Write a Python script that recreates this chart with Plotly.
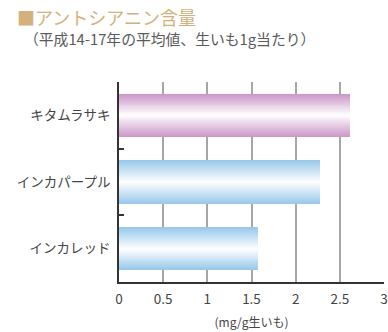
import plotly.graph_objects as go

categories = ["キタムラサキ", "インカパープル", "インカレッド"]
values = [2.61, 2.27, 1.57]
bar_colors = ["#cc98c8", "#99c9ea", "#99c9ea"]
x_ticks = [0, 0.5, 1, 1.5, 2, 2.5, 3]
x_tick_labels = ["0", "0.5", "1", "1.5", "2", "2.5", "3"]

FONT = "Noto Sans CJK JP"
W, H = 388, 332
L, R, T, B = 119, 4, 82, 50
PW, PH = W - L - R, H - T - B


def mix(hex_color, t):
    h = hex_color.lstrip("#")
    r, g, b = int(h[0:2], 16), int(h[2:4], 16), int(h[4:6], 16)
    r = round(r + (255 - r) * t)
    g = round(g + (255 - g) * t)
    b = round(b + (255 - b) * t)
    return f"rgb({r},{g},{b})"


fig = go.Figure()
N = 22
BAR_W = 0.65
for k in range(N):
    t = k / (N - 1) * 0.97
    fig.add_trace(go.Bar(
        y=categories, x=values, orientation="h",
        width=BAR_W * (1 - k / N),
        marker=dict(color=[mix(c, t) for c in bar_colors], line=dict(width=0)),
        showlegend=False, hoverinfo="skip" if k else "x+y",
    ))


def px(xp):
    return (xp - L) / PW


def py(yp):
    return (H - B - yp) / PH


fig.update_layout(
    width=W, height=H,
    margin=dict(l=L, r=R, t=T, b=B, autoexpand=False),
    paper_bgcolor="white", plot_bgcolor="white",
    barmode="overlay", bargap=0,
    font=dict(family=FONT, color="#444444", size=13),
    annotations=[
        dict(text="■アントシアニン含量", xref="paper", yref="paper",
             x=px(15), y=py(17), xanchor="left", yanchor="middle",
             showarrow=False, font=dict(family=FONT, size=18, color="#d3b17c")),
        dict(text="（平成14-17年の平均値、生いも1g当たり）", xref="paper", yref="paper",
             x=px(22), y=py(38), xanchor="left", yanchor="middle",
             showarrow=False, font=dict(family=FONT, size=14.8, color="#5a5a5a")),
    ],
    xaxis=dict(
        range=[0, 3], tickvals=x_ticks, ticktext=x_tick_labels,
        showgrid=True, gridcolor="#a6a6a6", gridwidth=2,
        showline=True, linecolor="#333333", linewidth=1.5,
        ticks="", zeroline=False, fixedrange=True, automargin=False,
        ticklabelstandoff=4,
        tickfont=dict(size=13.5, color="#444444"),
        title=dict(text="(mg/g生いも)", font=dict(size=12, color="#444444"), standoff=12),
    ),
    yaxis=dict(
        categoryorder="array", categoryarray=categories[::-1],
        range=[-0.5, 2.5], automargin=False,
        showgrid=False, showline=True, linecolor="#333333", linewidth=1.5,
        ticks="inside", ticklen=5, tickcolor="#333333", tickwidth=1.5,
        tickson="boundaries", ticklabelstandoff=4,
        tickfont=dict(size=13.5, color="#444444"), zeroline=False,
    ),
)

fig.write_html("out.html")
